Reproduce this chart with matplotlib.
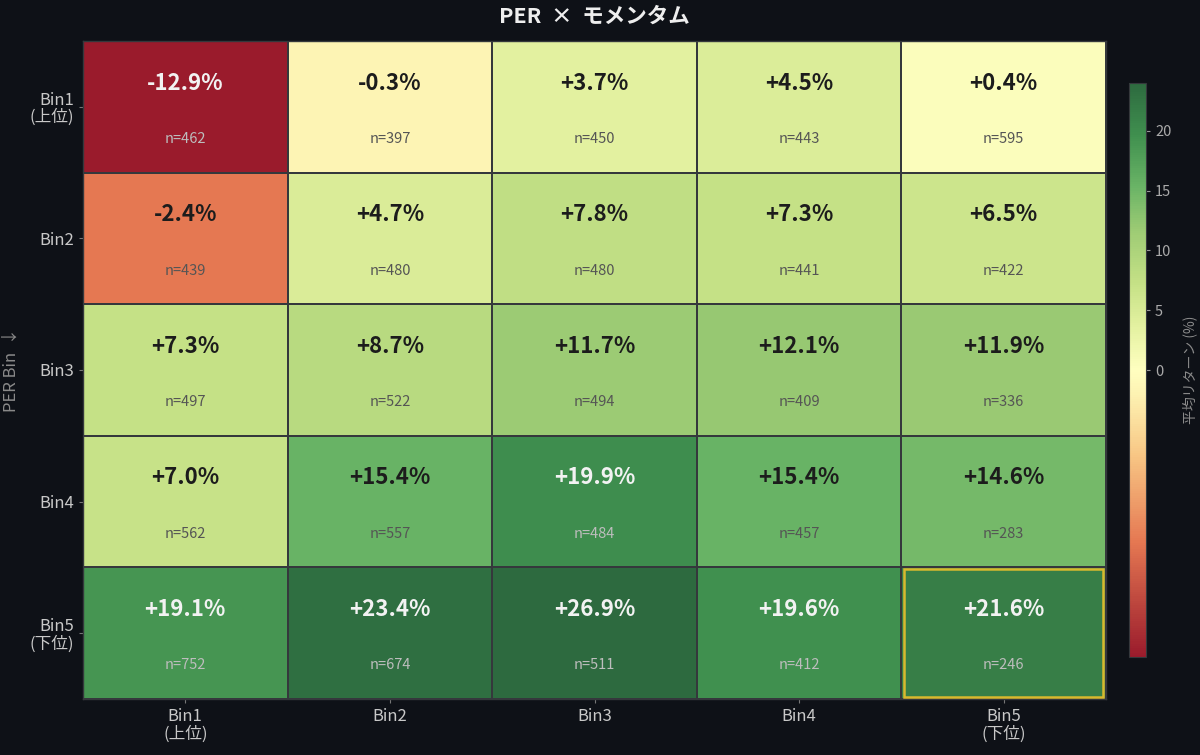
import numpy as np
import matplotlib
matplotlib.use("Agg")
import matplotlib.pyplot as plt
from matplotlib.colors import LinearSegmentedColormap, TwoSlopeNorm
from matplotlib.patches import Rectangle

plt.rcParams['font.family'] = ['Noto Sans CJK JP', 'DejaVu Sans']

row_labels = ["Bin1\n(上位)", "Bin2", "Bin3", "Bin4", "Bin5\n(下位)"]
col_labels = ["Bin1\n(上位)", "Bin2", "Bin3", "Bin4", "Bin5\n(下位)"]
returns = [
    [-12.9, -0.3, 3.7, 4.5, 0.4],
    [-2.4, 4.7, 7.8, 7.3, 6.5],
    [7.3, 8.7, 11.7, 12.1, 11.9],
    [7.0, 15.4, 19.9, 15.4, 14.6],
    [19.1, 23.4, 26.9, 19.6, 21.6],
]
counts = [
    [462, 397, 450, 443, 595],
    [439, 480, 480, 441, 422],
    [497, 522, 494, 409, 336],
    [562, 557, 484, 457, 283],
    [752, 674, 511, 412, 246],
]
title = "PER  ×  モメンタム"
ylabel = "PER Bin  ↓"
cbar_label = "平均リターン (%)"
cbar_ticks = [0, 5, 10, 15, 20]

BG = "#0e1117"
data = np.array(returns)

cmap = LinearSegmentedColormap.from_list("custom_rdylgn", [
    (0.0, "#9a1b2c"),
    (0.2, "#e57852"),
    (0.35, "#f8c684"),
    (0.46, "#fdf3b3"),
    (0.5, "#ffffc0"),
    (0.577, "#e3f1a0"),
    (0.652, "#c5e186"),
    (0.744, "#9dcb74"),
    (0.82, "#6ab466"),
    (0.91, "#40904f"),
    (1.0, "#2d6a3f"),
])
norm = TwoSlopeNorm(vmin=-4, vcenter=0, vmax=24)

fig = plt.figure(figsize=(12, 7.55), dpi=100, facecolor=BG)
ax = fig.add_axes([83/1200, 1-699/755, (1106-83)/1200, (699-41)/755])
ax.set_facecolor(BG)
cax = fig.add_axes([1129/1200, 1-657/755, 17/1200, 574/755])

nr, nc = data.shape
mesh = ax.pcolormesh(np.arange(nc+1), np.arange(nr+1), data, cmap=cmap, norm=norm,
                     edgecolors="#35383c", linewidth=1.3)
ax.set_xlim(0, nc)
ax.set_ylim(nr, 0)

for i in range(nr):
    for j in range(nc):
        v = data[i, j]
        t = norm(v)
        dark_cell = t < 0.12 or t > 0.86
        vc = "#f2f2f2" if dark_cell else "#1c1c1c"
        nc_col = "#bdbdbd" if dark_cell else "#555555"
        ax.text(j+0.5, i+0.32, f"{v:+.1f}%", ha="center", va="center",
                fontsize=16, fontweight="bold", color=vc)
        ax.text(j+0.5, i+0.745, f"n={counts[i][j]}", ha="center", va="center",
                fontsize=10.5, color=nc_col)

# highlight
ax.add_patch(Rectangle((4.015, 4.015), 0.97, 0.97, fill=False, edgecolor="#d9b92e",
                       linewidth=1.8, zorder=5, clip_on=False))

ax.set_xticks(np.arange(nc)+0.5)
ax.set_xticklabels(col_labels, fontsize=12, linespacing=1.0)
ax.set_yticks(np.arange(nr)+0.5)
ax.set_yticklabels(row_labels, fontsize=12, linespacing=1.0)
ax.tick_params(colors="#777777", labelcolor="#c8c8c8", length=3, width=0.8)
ax.set_ylabel(ylabel, fontsize=12, color="#8a8a8a")
ax.yaxis.label.set_va("center")
ax.yaxis.set_label_coords(-72/1023, 0.5)
for s in ax.spines.values():
    s.set_color("#35383c")
    s.set_linewidth(1)

fig.suptitle(title, x=(83+1106)/2/1200, y=1-16/755, va="center",
             fontsize=15.5, fontweight="bold", color="#eeeeee")

cb = fig.colorbar(mesh, cax=cax)
cb.set_ticks(cbar_ticks)
cb.ax.tick_params(colors="#999999", labelcolor="#aaaaaa", labelsize=10.5, length=3, width=0.8)
cb.outline.set_edgecolor("#35383c")
cb.set_label(cbar_label, color="#8a8a8a", fontsize=10, labelpad=8)

fig.savefig("out.png", dpi=100, facecolor=BG)
